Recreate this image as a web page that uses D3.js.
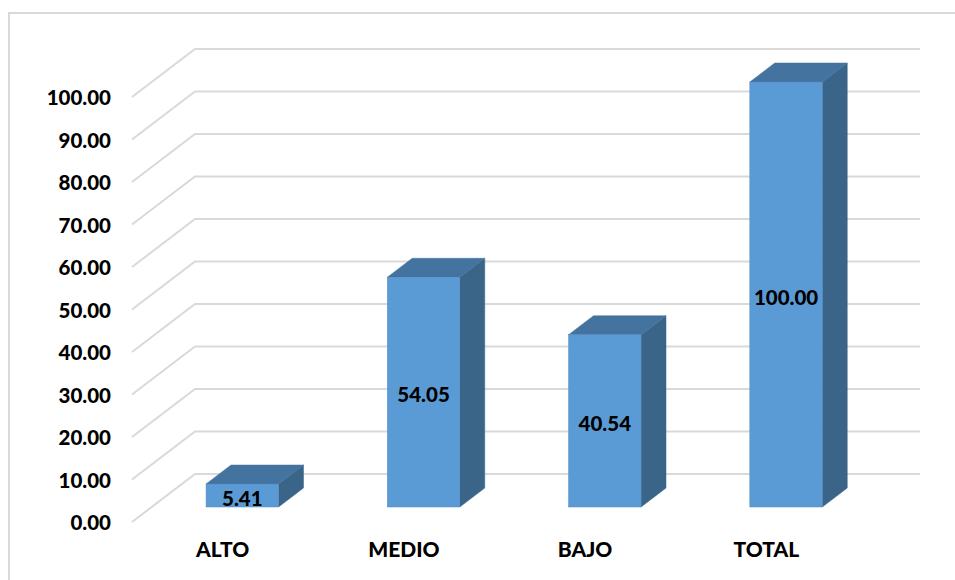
<!DOCTYPE html>
<html><head><meta charset="utf-8">
<script src="https://cdn.jsdelivr.net/npm/d3@7"></script>
<style>body{margin:0;background:#fff;}svg{display:block;}text{font-family:Lato,"Liberation Sans",sans-serif;font-weight:900;fill:#000;}</style>
</head><body>
<script>
const categories = ["ALTO", "MEDIO", "BAJO", "TOTAL"];
const values = [5.41, 54.05, 40.54, 100.00];
const tickValues = [0, 10, 20, 30, 40, 50, 60, 70, 80, 90, 100];

const W = 955, H = 580;
const svg = d3.select("body").append("svg").attr("width", W).attr("height", H);

// outer chart border
svg.append("path").attr("d", `M9,${H} L9,13 L${W},13`).attr("fill", "none")
  .attr("stroke", "#d9d9d9").attr("stroke-width", 2);

const depth = {dx: 63, dy: -48};
const f1 = 15 / 48, f2 = 34 / 48;

const x = d3.scaleBand().domain(categories).range([132, 857]).padding(0);
const y = d3.scaleLinear().domain([0, 100]).range([522, 97]);

// gridlines (floor-to-back-wall style)
const grid = svg.append("g");
tickValues.forEach(v => {
  const y0 = y(v);
  grid.append("path")
    .attr("d", `M${x.range()[0]},${y0} L${x.range()[0] + depth.dx},${y0 + depth.dy} L${x.range()[1] + depth.dx},${y0 + depth.dy}`)
    .attr("fill", "none").attr("stroke", "#d9d9d9").attr("stroke-width", 2);
});

const FONT = "Lato, 'Liberation Sans', sans-serif";

// y axis labels
const yAxis = d3.axisLeft(y).tickValues(tickValues).tickFormat(d3.format(".2f")).tickSize(0).tickPadding(0);
const ya = svg.append("g").attr("transform", "translate(111,1)").call(yAxis);
ya.select(".domain").remove();
ya.selectAll("text").attr("font-size", 20.5).style("font-family", FONT).style("font-weight", "900").attr("fill", "#000");

// x axis labels
const xAxis = d3.axisBottom(x).tickSize(0).tickPadding(0);
const xa = svg.append("g").attr("transform", "translate(0,542)").call(xAxis);
xa.select(".domain").remove();
xa.selectAll("text").attr("font-size", 21).style("font-family", FONT).style("font-weight", "900").attr("fill", "#000");

// bars
const bw = x.bandwidth() * 0.4;
const bars = svg.append("g");
categories.forEach((c, i) => {
  const v = values[i];
  const cx = x(c) + x.bandwidth() / 2 + f1 * depth.dx;
  const x0 = cx - bw / 2, x1 = cx + bw / 2;
  const yb = y(0) + f1 * depth.dy, yt = y(v) + f1 * depth.dy;
  const ddx = (f2 - f1) * depth.dx, ddy = (f2 - f1) * depth.dy;
  // side face
  bars.append("path").attr("d", `M${x1},${yt} L${x1 + ddx},${yt + ddy} L${x1 + ddx},${yb + ddy} L${x1},${yb} Z`)
    .attr("fill", "#3a6589").attr("stroke", "#3a6589").attr("stroke-width", 0.5);
  // top face
  bars.append("path").attr("d", `M${x0},${yt} L${x0 + ddx},${yt + ddy} L${x1 + ddx},${yt + ddy} L${x1},${yt} Z`)
    .attr("fill", "#44739f").attr("stroke", "#44739f").attr("stroke-width", 0.5);
  // front face
  bars.append("rect").attr("x", x0).attr("y", yt).attr("width", bw).attr("height", yb - yt)
    .attr("fill", "#5b9bd5").attr("stroke", "#4f8bc2").attr("stroke-width", 0.5);
  // label
  bars.append("text").attr("x", cx).attr("y", (yt + yb) / 2 + 2)
    .attr("text-anchor", "middle").attr("dominant-baseline", "central")
    .attr("font-size", 20.5).text(d3.format(".2f")(v));
});
</script>
</body></html>
